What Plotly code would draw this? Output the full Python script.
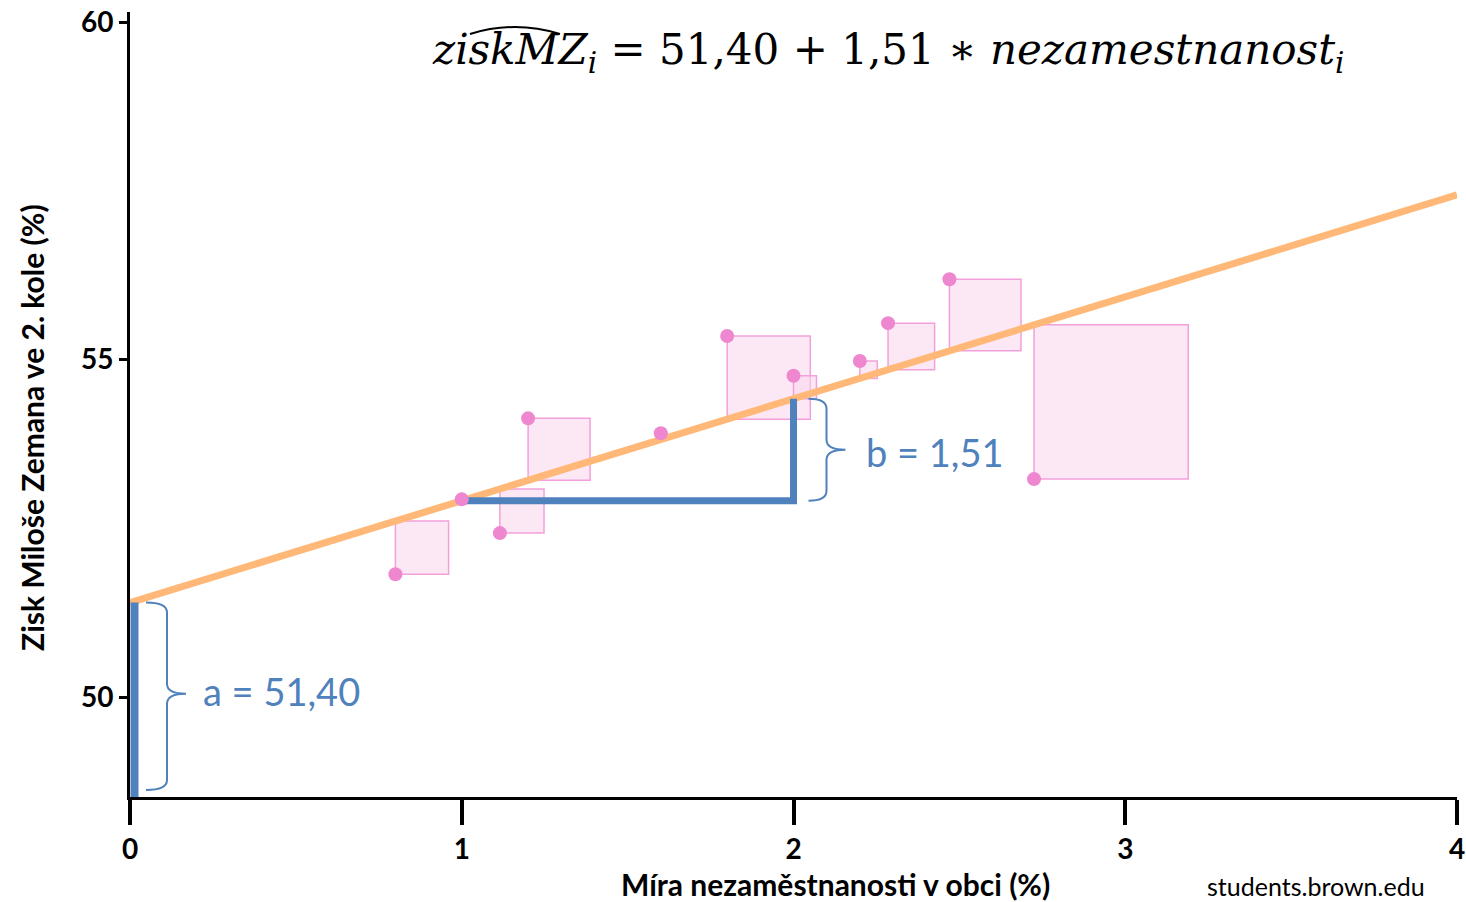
import plotly.graph_objects as go

# Municipality data: unemployment rate (%) and Zeman's 2nd-round vote share (%)
unemployment = [0.80, 1.00, 1.115, 1.20, 1.60, 1.80, 2.00, 2.20, 2.285, 2.47, 2.725]
zeman_share = [51.82, 52.93, 52.43, 54.13, 53.91, 55.35, 54.76, 54.98, 55.54, 56.19, 53.23]

# Fitted regression coefficients
intercept = 51.40
slope = 1.51

x_ticks = [0, 1, 2, 3, 4]
y_ticks = [50, 55, 60]

W, H = 1466, 902
ML, MR, MT, MB = 130, 9, 12, 105
x_range = [0, 4]
y_range = [48.52, 60.15]
plot_w = W - ML - MR
plot_h = H - MT - MB
px_per_x = plot_w / (x_range[1] - x_range[0])
px_per_y = plot_h / (y_range[1] - y_range[0])

BLUE = "#4F81BD"
ORANGE = "#FFB877"
PINK = "#EE86D0"
PINK_FILL = "rgba(249, 214, 236, 0.55)"
PINK_EDGE = "#F2A0DA"


def fit(x):
    return intercept + slope * x


def paper_x(px):
    return (px - ML) / plot_w


def paper_y(py):
    return (H - MB - py) / plot_h


fig = go.Figure()

# Residual squares: side = |residual|, drawn square on screen
shapes = []
for x, y in zip(unemployment, zeman_share):
    r = y - fit(x)
    side_x = abs(r) * px_per_y / px_per_x
    shapes.append(dict(type="rect", xref="x", yref="y", layer="below",
                       x0=x, x1=x + side_x, y0=y, y1=fit(x),
                       fillcolor=PINK_FILL, line=dict(color=PINK_EDGE, width=1.5)))


def brace(x0, x1, x2, y_top, y_bot, y_mid):
    """Right-facing curly brace path in data coordinates."""
    hy = 10 / px_per_y
    return (f"M{x0},{y_top} Q{x1},{y_top} {x1},{y_top - hy} "
            f"L{x1},{y_mid + hy} Q{x1},{y_mid} {x2},{y_mid} "
            f"Q{x1},{y_mid} {x1},{y_mid - hy} "
            f"L{x1},{y_bot + hy} Q{x1},{y_bot} {x0},{y_bot}")


# brace for slope b
bx0 = 2 + 15 / px_per_x
shapes.append(dict(type="path", xref="x", yref="y",
                   path=brace(bx0, bx0 + 18 / px_per_x, bx0 + 37 / px_per_x,
                              fit(2), fit(1), (fit(1) + fit(2)) / 2),
                   line=dict(color=BLUE, width=2)))
# brace for intercept a
ax0 = 16 / px_per_x
a_bot = y_range[0] + 7 / px_per_y
shapes.append(dict(type="path", xref="x", yref="y",
                   path=brace(ax0, ax0 + 21 / px_per_x, ax0 + 40 / px_per_x,
                              intercept, a_bot, 50.05),
                   line=dict(color=BLUE, width=2)))

# hat over the equation's variable name
shapes.append(dict(type="path", xref="paper", yref="paper",
                   path=(f"M{paper_x(470)},{paper_y(34)} "
                         f"Q{paper_x(515)},{paper_y(20)} {paper_x(560)},{paper_y(34)}"),
                   line=dict(color="black", width=2)))

# regression line
fig.add_trace(go.Scatter(x=[x_range[0], x_range[1]], y=[fit(x_range[0]), fit(x_range[1])],
                         mode="lines", line=dict(color=ORANGE, width=7),
                         hoverinfo="skip", showlegend=False))

# intercept bar a
x_bar = 4.5 / px_per_x
fig.add_trace(go.Scatter(x=[x_bar, x_bar], y=[y_range[0], intercept],
                         mode="lines", line=dict(color=BLUE, width=8),
                         hoverinfo="skip", showlegend=False))

# slope step b
fig.add_trace(go.Scatter(x=[1, 2, 2], y=[fit(1), fit(1), fit(2)],
                         mode="lines", line=dict(color=BLUE, width=7),
                         hoverinfo="skip", showlegend=False))

# observations
fig.add_trace(go.Scatter(x=unemployment, y=zeman_share, mode="markers",
                         marker=dict(color=PINK, size=14),
                         showlegend=False))

annotations = [
    dict(xref="paper", yref="paper", x=paper_x(430), y=paper_y(53),
         xanchor="left", yanchor="middle", showarrow=False,
         text=("<i>ziskMZ</i><sub><i>i</i></sub> = 51,40 + 1,51 ∗ "
               "<i>nezamestnanost</i><sub><i>i</i></sub>"),
         font=dict(family="DejaVu Serif", size=42, color="black")),
    dict(xref="paper", yref="paper", x=paper_x(201), y=paper_y(691),
         xanchor="left", yanchor="middle", showarrow=False,
         text=f"a = {intercept:.2f}".replace(".", ","),
         font=dict(family="Lato", size=38, color=BLUE)),
    dict(xref="paper", yref="paper", x=paper_x(864), y=paper_y(452),
         xanchor="left", yanchor="middle", showarrow=False,
         text=f"b = {slope:.2f}".replace(".", ","),
         font=dict(family="Lato", size=38, color=BLUE)),
    dict(xref="paper", yref="paper", x=paper_x(835), y=paper_y(884),
         xanchor="center", yanchor="middle", showarrow=False,
         text="<b>Míra nezaměstnanosti v obci (%)</b>",
         font=dict(family="Lato", size=30, color="black")),
    dict(xref="paper", yref="paper", x=paper_x(32), y=paper_y(428),
         xanchor="center", yanchor="middle", showarrow=False, textangle=-90,
         text="<b>Zisk Miloše Zemana ve 2. kole (%)</b>",
         font=dict(family="Lato", size=30, color="black")),
    dict(xref="paper", yref="paper", x=paper_x(1316), y=paper_y(886),
         xanchor="center", yanchor="middle", showarrow=False,
         text="students.brown.edu",
         font=dict(family="Lato", size=25, color="black")),
]

fig.update_layout(
    width=W, height=H,
    margin=dict(l=ML, r=MR, t=MT, b=MB),
    paper_bgcolor="white", plot_bgcolor="white",
    shapes=shapes, annotations=annotations,
    font=dict(family="Lato", color="black"),
    xaxis=dict(range=x_range, tickvals=x_ticks, ticktext=[str(t) for t in x_ticks],
               automargin=False,
               showgrid=False, zeroline=False, showline=True, linecolor="black",
               linewidth=3, ticks="outside", ticklen=25, tickwidth=4, tickcolor="black",
               tickfont=dict(family="Lato", size=28, color="black", weight="bold")),
    yaxis=dict(range=y_range, tickvals=y_ticks, ticktext=[str(t) for t in y_ticks],
               automargin=False,
               showgrid=False, zeroline=False, showline=True, linecolor="black",
               linewidth=3, ticks="outside", ticklen=8, tickwidth=3, tickcolor="black",
               tickfont=dict(family="Lato", size=28, color="black", weight="bold")),
)

fig.write_html("out.html")
